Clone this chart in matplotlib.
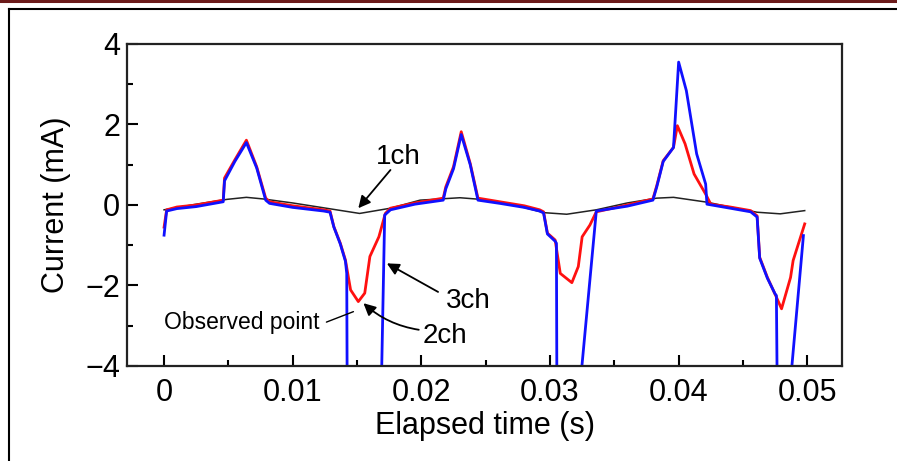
import matplotlib
matplotlib.use('Agg')
import matplotlib.pyplot as plt
from matplotlib.lines import Line2D
from matplotlib.ticker import MultipleLocator

plt.rcParams['font.family'] = ['Liberation Sans', 'DejaVu Sans']

# 1ch (reference, black)
t1 = [0, 0.0025, 0.0049, 0.0064, 0.0077, 0.0100, 0.0124, 0.0152, 0.0176, 0.0199,
      0.0230, 0.0246, 0.0270, 0.0295, 0.0313, 0.0336, 0.0360, 0.0383, 0.0396,
      0.0422, 0.0440, 0.0461, 0.0479, 0.0498]
i1 = [-0.12, 0.02, 0.14, 0.19, 0.15, 0.05, -0.07, -0.21, -0.08, 0.12,
      0.18, 0.14, 0.02, -0.19, -0.23, -0.12, 0.05, 0.17, 0.19,
      0.07, -0.05, -0.18, -0.22, -0.14]

# 2ch (red)
t2 = [0, 0.0002, 0.0010, 0.0025, 0.0046, 0.0047, 0.0055, 0.0064, 0.0072, 0.0079,
      0.0082, 0.0100, 0.0124, 0.0129, 0.0132, 0.0137, 0.0141, 0.0145, 0.0151,
      0.0156, 0.0160, 0.0167, 0.0172, 0.0176, 0.0195, 0.0217, 0.0219, 0.0225,
      0.0231, 0.0238, 0.0244, 0.0261, 0.0280, 0.0292, 0.0295, 0.0298, 0.0304,
      0.0308, 0.0317, 0.0322, 0.0325, 0.0331, 0.0336, 0.0360, 0.0380, 0.0383,
      0.0388, 0.0396, 0.0399, 0.0405, 0.0412, 0.0421, 0.0425, 0.0440, 0.0456,
      0.0461, 0.0463, 0.0469, 0.0476, 0.0480, 0.0487, 0.0489, 0.0498]
i2 = [-0.55, -0.12, -0.05, 0.0, 0.12, 0.67, 1.12, 1.61, 0.95, 0.17,
      0.08, -0.02, -0.12, -0.15, -0.54, -0.95, -1.37, -2.11, -2.40,
      -2.19, -1.28, -0.79, -0.21, -0.08, 0.05, 0.17, 0.45, 0.95,
      1.82, 1.03, 0.17, 0.08, -0.02, -0.12, -0.17, -0.70, -0.87,
      -1.70, -1.93, -1.53, -0.79, -0.50, -0.17, 0.0, 0.15, 0.48,
      1.10, 1.43, 1.97, 1.52, 0.77, 0.27, 0.02, -0.05, -0.14,
      -0.27, -1.30, -1.80, -2.29, -2.58, -1.80, -1.38, -0.47]

# 3ch (blue), goes off scale below -4
t3 = [0, 0.0002, 0.0010, 0.0025, 0.0046, 0.0047, 0.0055, 0.0064, 0.0072, 0.0079,
      0.0082, 0.0100, 0.0124, 0.0129, 0.0132, 0.0137, 0.0141, 0.0142, 0.01425,
      0.0168, 0.01715, 0.0176, 0.0195, 0.0217, 0.0219, 0.0225, 0.0231, 0.0238,
      0.0244, 0.0261, 0.0280, 0.0292, 0.0295, 0.0298, 0.0304, 0.0305, 0.03055,
      0.0319, 0.0336, 0.0360, 0.0380, 0.0383, 0.0388, 0.0396, 0.0400, 0.0406,
      0.0414, 0.0421, 0.0422, 0.0440, 0.0456, 0.0461, 0.0463, 0.0469, 0.0475,
      0.0476, 0.0477, 0.04825, 0.0497]
i3 = [-0.75, -0.15, -0.09, -0.04, 0.08, 0.60, 1.08, 1.55, 0.92, 0.12,
      0.04, -0.06, -0.15, -0.18, -0.55, -0.97, -1.40, -1.70, -6.0,
      -6.0, -0.25, -0.12, 0.02, 0.12, 0.40, 0.90, 1.75, 1.00,
      0.12, 0.04, -0.06, -0.15, -0.20, -0.72, -0.90, -0.95, -6.0,
      -6.0, -0.15, -0.03, 0.12, 0.45, 1.08, 1.43, 3.55, 2.84,
      1.27, 0.52, 0.02, -0.08, -0.17, -0.30, -1.32, -1.82, -2.21,
      -2.25, -6.0, -6.0, -0.76]

fig = plt.figure(figsize=(8.97, 4.61), dpi=100)
ax = fig.add_axes([0.1416, 0.2061, 0.7971, 0.6985])

ax.plot(t1, i1, color='#222222', lw=1.1)
ax.plot(t2, i2, color='#ff1010', lw=2.0)
ax.plot(t3, i3, color='#1010ff', lw=2.0)

ax.set_xlim(-0.00288, 0.0527)
ax.set_ylim(-4, 4)
ax.xaxis.set_minor_locator(MultipleLocator(0.005))
ax.yaxis.set_minor_locator(MultipleLocator(1))
ax.set_xticks([0, 0.01, 0.02, 0.03, 0.04, 0.05])
ax.set_xticklabels(['0', '0.01', '0.02', '0.03', '0.04', '0.05'])
ax.set_yticks([-4, -2, 0, 2, 4])
ax.set_yticklabels(['\u22124', '\u22122', '0', '2', '4'])
ax.tick_params(which='both', direction='in', width=1.5, top=False, right=False,
               labelsize=22, colors='black')
ax.tick_params(axis='x', which='major', length=8, pad=9)
ax.tick_params(axis='y', which='major', length=8, pad=5)
ax.tick_params(which='minor', length=4)
for s in ax.spines.values():
    s.set_linewidth(1.6)
    s.set_color('#222222')

ax.set_xlabel('Elapsed time (s)', fontsize=22, labelpad=2)
ax.set_ylabel('Current (mA)', fontsize=22, labelpad=10)

arrow = dict(arrowstyle='-|>', color='black', lw=1.3, mutation_scale=18,
             shrinkA=0, shrinkB=0)
ax.annotate('', xy=(0.0151, -0.08), xytext=(0.0176, 0.87), arrowprops=arrow)
ax.text(0.0182, 1.19, '1ch', fontsize=20, ha='center', va='center')
ax.annotate('', xy=(0.01732, -1.45), xytext=(0.0213, -2.16), arrowprops=arrow)
ax.text(0.02364, -2.385, '3ch', fontsize=20, ha='center', va='center')
ax.annotate('', xy=(0.0155, -2.44), xytext=(0.0198, -3.1),
            arrowprops=dict(arrow, connectionstyle='arc3,rad=-0.15'))
ax.text(0.0218, -3.25, '2ch', fontsize=20, ha='center', va='center')
ax.annotate('', xy=(0.01472, -2.65), xytext=(0.01262, -2.91),
            arrowprops=dict(arrowstyle='-', color='black', lw=1.0,
                            shrinkA=0, shrinkB=0))
ax.text(0.00607, -2.93, 'Observed point', fontsize=16.5, ha='center', va='center')

# page frame around the figure
fig.add_artist(Line2D([0, 1], [0.9978, 0.9978], transform=fig.transFigure,
                      color='#6b1a1a', lw=2.2))
fig.add_artist(Line2D([0.0100, 1], [0.9805, 0.9805], transform=fig.transFigure,
                      color='black', lw=1.5))
fig.add_artist(Line2D([0.0100, 0.0100], [0, 0.9805], transform=fig.transFigure,
                      color='black', lw=1.5))

fig.savefig('out.png', dpi=100)
